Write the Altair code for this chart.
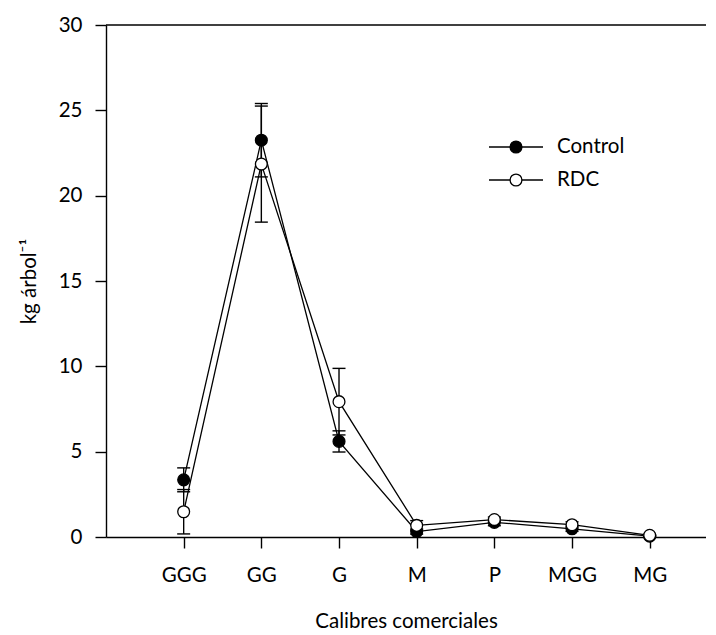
import json
import altair as alt
import pandas as pd

categories = ["GGG", "GG", "G", "M", "P", "MGG", "MG"]
series_names = ["Control", "RDC"]
control_mean = [3.35, 23.25, 5.6, 0.32, 0.86, 0.48, 0.05]
control_se = [0.7, 2.15, 0.62, 0.15, 0.2, 0.15, 0.03]
rdc_mean = [1.48, 21.85, 7.93, 0.68, 1.02, 0.72, 0.1]
rdc_se = [1.3, 3.4, 1.95, 0.28, 0.15, 0.17, 0.04]
y_ticks = [0, 5, 10, 15, 20, 25, 30]

rows = []
for name, means, ses in [("Control", control_mean, control_se), ("RDC", rdc_mean, rdc_se)]:
    for i, (c, m, s) in enumerate(zip(categories, means, ses)):
        rows.append({"pos": i + 1, "cat": c, "series": name, "mean": m,
                     "lo": max(m - s, 0), "hi": m + s})
df = pd.DataFrame(rows)

FONT = "Lato"
FS = 20.5
INK = "#000000"

label_expr = "(" + json.dumps(categories) + ")[datum.value - 1]"

x_enc = alt.X("pos:Q",
              scale=alt.Scale(domain=[0, 7.725], nice=False, zero=False),
              axis=alt.Axis(values=list(range(1, len(categories) + 1)),
                            labelExpr=label_expr, title="Calibres comerciales",
                            grid=False, tickSize=11, labelPadding=17,
                            titlePadding=26))
y_scale = alt.Scale(domain=[y_ticks[0], y_ticks[-1]], nice=False)
y_axis = alt.Axis(values=y_ticks, title="kg árbol⁻¹", grid=False, tickSize=11,
                  labelPadding=13, titlePadding=19)

base = alt.Chart(df)

lines = base.mark_line(color=INK, strokeWidth=1.3).encode(
    x=x_enc, y=alt.Y("mean:Q", scale=y_scale, axis=y_axis), detail="series:N")

err = base.mark_rule(color=INK, strokeWidth=1.4).encode(
    x="pos:Q", y="lo:Q", y2="hi:Q")
cap_lo = base.mark_tick(orient="horizontal", size=13, thickness=1.4, color=INK, opacity=1).encode(
    x="pos:Q", y="lo:Q")
cap_hi = base.mark_tick(orient="horizontal", size=13, thickness=1.4, color=INK, opacity=1).encode(
    x="pos:Q", y="hi:Q")

fill_scale = alt.Scale(domain=series_names, range=["black", "white"])
points = base.mark_point(shape="circle", filled=True, size=140, stroke=INK,
                         strokeWidth=1.3, opacity=1).encode(
    x="pos:Q", y="mean:Q",
    fill=alt.Fill("series:N", scale=fill_scale, legend=None))

top = alt.Chart(pd.DataFrame({"top": [y_ticks[-1]]})).mark_rule(
    color=INK, strokeWidth=1.4).encode(y="top:Q")

# manual legend (decoration)
legend_layers = []
legend_y = [122, 155]
for name, ly, fill in zip(series_names, legend_y, ["black", "white"]):
    ldf = pd.DataFrame({"series": [name]})
    lc = alt.Chart(ldf)
    legend_layers.append(lc.mark_rule(color=INK, strokeWidth=1.3).encode(
        x=alt.value(383), x2=alt.value(437), y=alt.value(ly)))
    legend_layers.append(lc.mark_point(shape="circle", filled=True, size=140, stroke=INK,
                                       strokeWidth=1.3, fill=fill, opacity=1).encode(
        x=alt.value(410), y=alt.value(ly)))
    legend_layers.append(lc.mark_text(align="left", baseline="middle", font=FONT,
                                      fontSize=FS, color=INK).encode(
        x=alt.value(451), y=alt.value(ly), text="series:N"))

chart = alt.layer(top, lines, err, cap_lo, cap_hi, points, *legend_layers).properties(
    width=600, height=512,
    autosize=alt.AutoSizeParams(type="none"),
    padding={"left": 98, "top": 17, "right": 0, "bottom": 98},
).configure_view(stroke=None).configure_axis(
    domainColor=INK, tickColor=INK, domainWidth=1.4, tickWidth=1.4,
    labelFont=FONT, titleFont=FONT, labelFontSize=FS, titleFontSize=FS,
    labelColor=INK, titleColor=INK, titleFontWeight="normal",
)

chart.save("out.html", embed_options={"renderer": "svg", "actions": False})
